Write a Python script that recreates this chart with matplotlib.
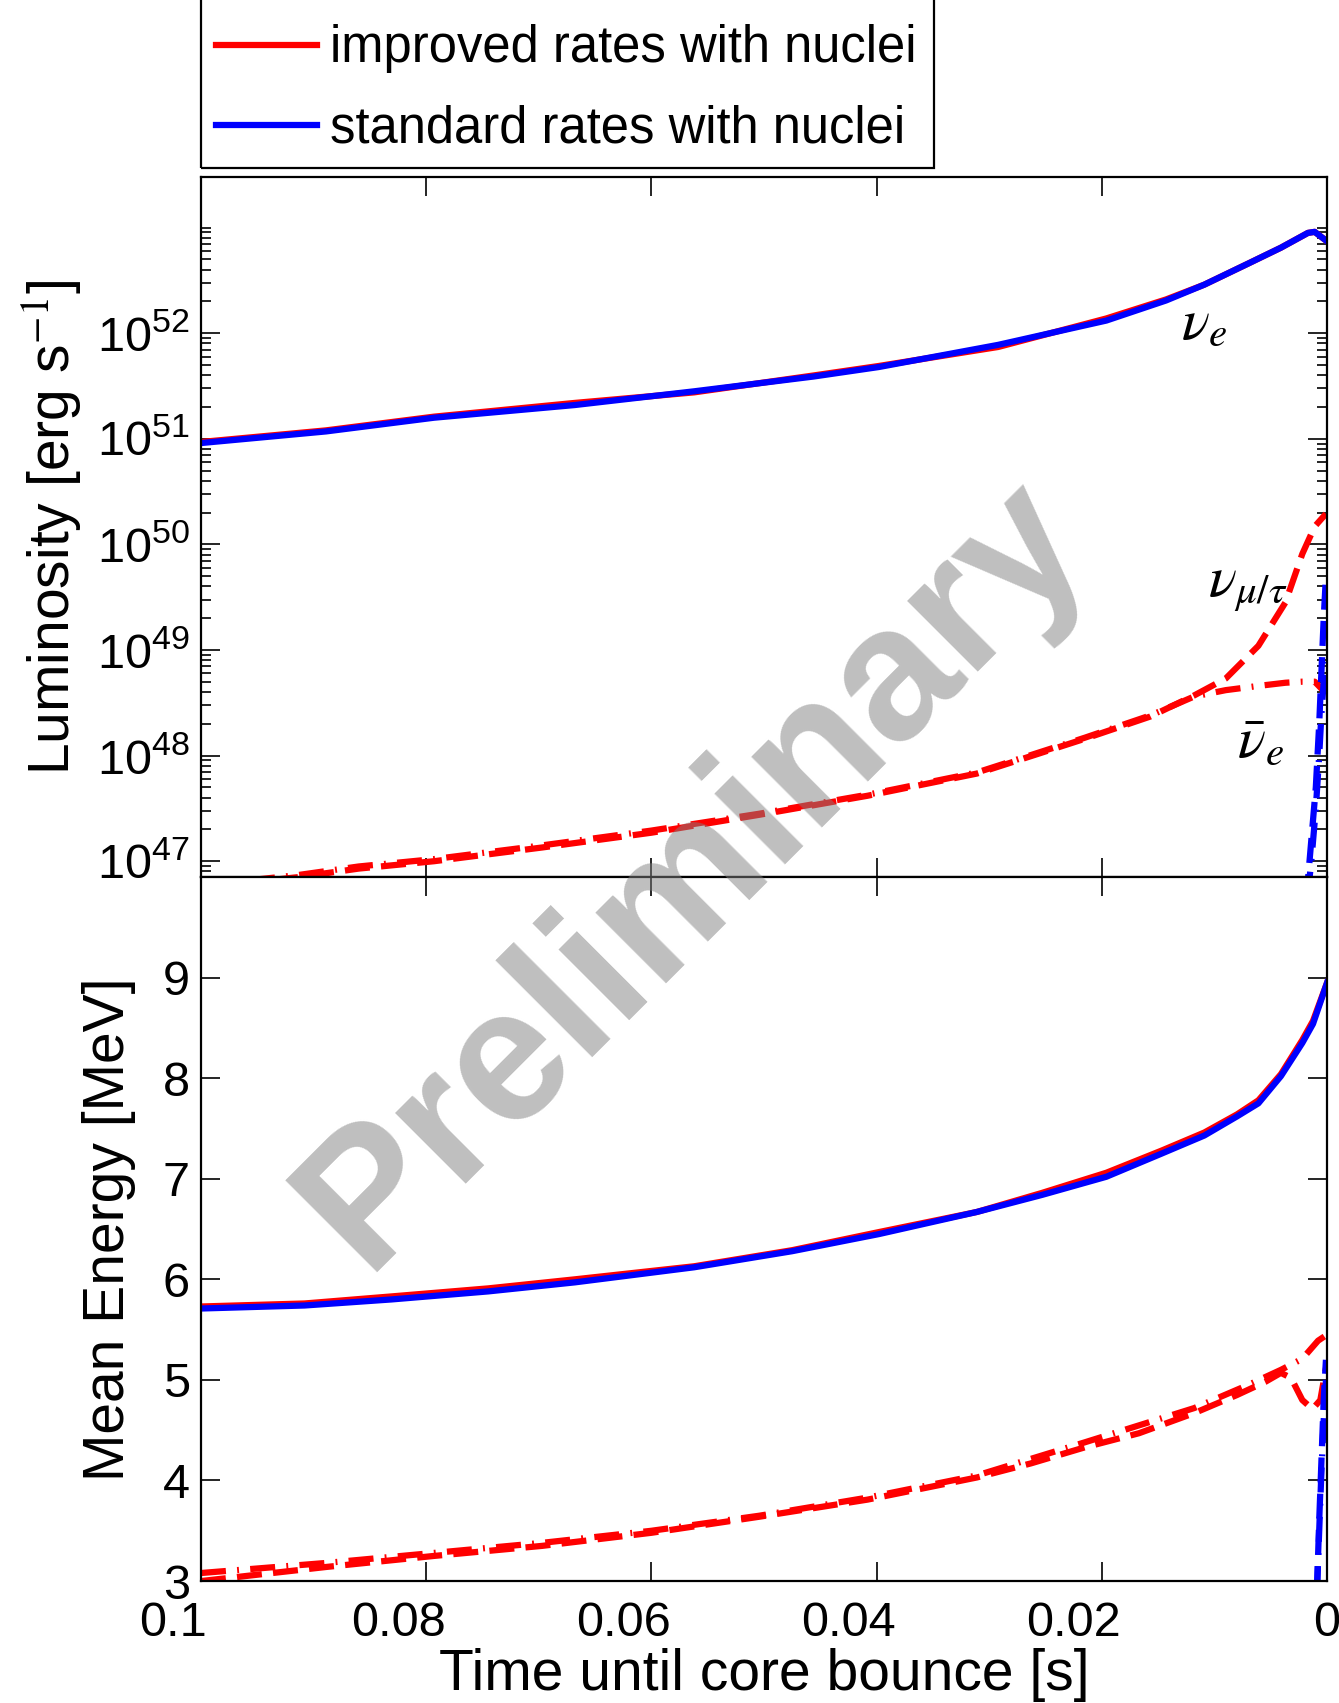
import numpy as np
import matplotlib.pyplot as plt
from matplotlib.lines import Line2D
from matplotlib.patches import Rectangle
from matplotlib.ticker import FixedLocator, NullFormatter
from matplotlib.transforms import ScaledTranslation

plt.rcParams['font.family'] = ['Liberation Sans', 'DejaVu Sans']
plt.rcParams['mathtext.fontset'] = 'stix'

# --- luminosity panel (log10 of erg/s), time until bounce in s ---
t_nue = [0.100, 0.0889, 0.0793, 0.0668, 0.0562, 0.0456, 0.0398, 0.0292,
         0.0196, 0.0143, 0.0109, 0.0070, 0.0041, 0.0017, 0.0011, 0.0]
logL_nue_improved = [50.97, 51.08, 51.21, 51.34, 51.44, 51.60, 51.69, 51.87,
                     52.14, 52.32, 52.46, 52.66, 52.81, 52.95, 52.96, 52.87]
logL_nue_standard = [50.96, 51.07, 51.20, 51.32, 51.45, 51.59, 51.68, 51.89,
                     52.12, 52.31, 52.46, 52.66, 52.81, 52.95, 52.96, 52.87]

t_heavy = [0.100, 0.0913, 0.0860, 0.0793, 0.0697, 0.0600, 0.0504, 0.0408, 0.0311,
           0.0215, 0.0157, 0.0118, 0.0090, 0.0061, 0.0037, 0.0022, 0.0011, 0.0001]
logL_numu_improved = [46.75, 46.85, 46.93, 47.00, 47.13, 47.27, 47.44, 47.62, 47.83,
                      48.16, 48.37, 48.57, 48.73, 49.04, 49.45, 49.91, 50.17, 50.29]
logL_anue_improved = [46.77, 46.87, 46.95, 47.02, 47.15, 47.29, 47.45, 47.63, 47.84,
                      48.17, 48.38, 48.56, 48.62, 48.66, 48.69, 48.70, 48.70, 48.59]

t_std_heavy = [0.0022, 0.0018, 0.0014, 0.0010, 0.0007, 0.0005, 0.0003, 0.0001]
logL_numu_standard = [46.3, 46.7, 47.2, 47.7, 48.3, 48.8, 49.3, 49.7]
logL_anue_standard = [46.2, 46.6, 47.0, 47.5, 48.0, 48.4, 48.7, 48.9]

# --- mean energy panel (MeV) ---
t_E = [0.100, 0.0908, 0.0831, 0.0745, 0.0668, 0.0562, 0.0475, 0.0398, 0.0311,
       0.0253, 0.0196, 0.0147, 0.0109, 0.0080, 0.0061, 0.0041, 0.0022, 0.00125, 0.0]
E_nue_improved = [5.73, 5.76, 5.83, 5.91, 6.00, 6.13, 6.29, 6.47, 6.67,
                  6.86, 7.06, 7.28, 7.46, 7.64, 7.78, 8.04, 8.38, 8.57, 8.95]
E_nue_standard = [5.71, 5.74, 5.80, 5.88, 5.97, 6.12, 6.28, 6.45, 6.67,
                  6.84, 7.02, 7.25, 7.43, 7.62, 7.75, 8.02, 8.35, 8.54, 8.95]

t_E_numu = [0.100, 0.0889, 0.0793, 0.0697, 0.0600, 0.0504, 0.0408, 0.0311, 0.0263,
            0.0215, 0.0167, 0.0118, 0.0080, 0.0055, 0.0041, 0.0032, 0.0022, 0.0013,
            0.0006, 0.0]
E_numu_improved = [3.00, 3.14, 3.25, 3.35, 3.48, 3.64, 3.81, 4.03, 4.17,
                   4.33, 4.47, 4.67, 4.85, 4.98, 5.07, 5.02, 4.80, 4.71,
                   4.80, 5.18]
t_E_anue = [0.100, 0.0889, 0.0793, 0.0697, 0.0600, 0.0504, 0.0408, 0.0311,
            0.0215, 0.0118, 0.0070, 0.0041, 0.0022, 0.0008, 0.0]
E_anue_improved = [3.08, 3.18, 3.28, 3.38, 3.50, 3.65, 3.83, 4.05,
                   4.38, 4.72, 4.95, 5.10, 5.21, 5.39, 5.45]

t_E_std_heavy = [0.0009, 0.0007, 0.0005, 0.0003, 0.0001]
E_numu_standard = [2.9, 3.6, 4.2, 4.8, 5.2]
E_anue_standard = [2.9, 3.5, 4.1, 4.6, 5.0]

lum_ticks = [1e47, 1e48, 1e49, 1e50, 1e51, 1e52]
energy_ticks = [3, 4, 5, 6, 7, 8, 9]
time_ticks = [0.1, 0.08, 0.06, 0.04, 0.02, 0]
time_labels = ['0.1', '0.08', '0.06', '0.04', '0.02', '0']

RED = '#ff0000'
BLUE = '#0000ff'
LW = 4.5
DASH = (0, (4.0, 1.8))
DASHDOT = (0, (4.0, 1.8, 0.3, 1.8))

fig = plt.figure(figsize=(13.39, 17.03), dpi=100)
ax1 = fig.add_axes([0.1501, 0.4850, 0.8410, 0.4111])
ax2 = fig.add_axes([0.1501, 0.0716, 0.8410, 0.4134])

to_L = lambda a: 10 ** np.asarray(a)

ax1.plot(t_nue, to_L(logL_nue_improved), color=RED, lw=LW)
ax1.plot(t_nue, to_L(logL_nue_standard), color=BLUE, lw=LW)
ax1.plot(t_heavy, to_L(logL_numu_improved), color=RED, lw=LW, ls=DASH)
ax1.plot(t_heavy, to_L(logL_anue_improved), color=RED, lw=LW, ls=DASHDOT)
ax1.plot(t_std_heavy, to_L(logL_numu_standard), color=BLUE, lw=LW, ls=DASH)
ax1.plot(t_std_heavy, to_L(logL_anue_standard), color=BLUE, lw=LW, ls=DASHDOT)

ax1.set_yscale('log')
ax1.set_ylim(10 ** 46.85, 10 ** 53.48)
ax1.yaxis.set_major_locator(FixedLocator(lum_ticks))
minor = [k * 10.0 ** n for n in range(46, 53) for k in range(2, 10)] + [1e53]
ax1.yaxis.set_minor_locator(FixedLocator(minor))
ax1.yaxis.set_minor_formatter(NullFormatter())
ax1.set_ylabel(r'Luminosity [erg s$^{-1}$]', fontsize=41)
ax1.yaxis.set_label_coords(-0.103, 0.5)

ax1.text(0.0109, 10 ** 52.09, r'$\nu_e$', fontsize=42, ha='center', va='center')
ax1.text(0.0070, 10 ** 49.60, r'$\nu_{\mu/\tau}$', fontsize=42, ha='center', va='center')
ax1.text(0.0059, 10 ** 48.13, r'$\bar{\nu}_e$', fontsize=42, ha='center', va='center')

ax2.plot(t_E, E_nue_improved, color=RED, lw=LW)
ax2.plot(t_E, E_nue_standard, color=BLUE, lw=LW)
ax2.plot(t_E_numu, E_numu_improved, color=RED, lw=LW, ls=DASH)
ax2.plot(t_E_anue, E_anue_improved, color=RED, lw=LW, ls=DASHDOT)
ax2.plot(t_E_std_heavy, E_numu_standard, color=BLUE, lw=LW, ls=DASH)
ax2.plot(t_E_std_heavy, E_anue_standard, color=BLUE, lw=LW, ls=DASHDOT)
ax2.set_ylim(3, 10)
ax2.set_yticks(energy_ticks)
ax2.set_ylabel('Mean Energy [MeV]', fontsize=41)
ax2.yaxis.set_label_coords(-0.058, 0.5)
ax2.set_xlabel('Time until core bounce [s]', fontsize=41, labelpad=2)

for ax in (ax1, ax2):
    ax.set_xlim(0.1, 0)
    ax.set_xticks(time_ticks)
    ax.tick_params(which='both', direction='in', top=True, right=True,
                   width=1.2, labelsize=35)
    ax.tick_params(which='major', length=14)
    ax.tick_params(which='minor', length=7)
    ax.tick_params(axis='y', pad=8)
    ax.tick_params(axis='x', pad=14)
    for sp in ax.spines.values():
        sp.set_linewidth(1.6)
ax1.set_xticklabels([])
ax2.set_xticklabels(time_labels)
# the original's x tick labels sit a little left of their ticks (except "0")
shift = ScaledTranslation(-0.28, 0, fig.dpi_scale_trans)
for lbl in ax2.get_xticklabels()[:-1]:
    lbl.set_transform(lbl.get_transform() + shift)

# legend box runs off the top of the figure in the original
fig.add_artist(Rectangle((201 / 1339, 1 - 168 / 1703), (934 - 201) / 1339, 0.2,
                         transform=fig.transFigure, fill=False,
                         edgecolor='black', lw=1.6))
handles = [Line2D([], [], color=RED, lw=LW), Line2D([], [], color=BLUE, lw=LW)]
fig.legend(handles, ['improved rates with nuclei', 'standard rates with nuclei'],
           loc='lower left', bbox_to_anchor=(201 / 1339, 1 - 168 / 1703),
           fontsize=36.5, frameon=False, handlelength=2.0, handletextpad=0.25,
           borderpad=0.29, labelspacing=0.61, borderaxespad=0)

fig.text(0.518, 0.487, 'Preliminary', fontsize=136, fontweight='bold',
         color='0.5', alpha=0.5, rotation=45, ha='center', va='center',
         rotation_mode='anchor', zorder=10)

fig.savefig('out.png', dpi=100)
